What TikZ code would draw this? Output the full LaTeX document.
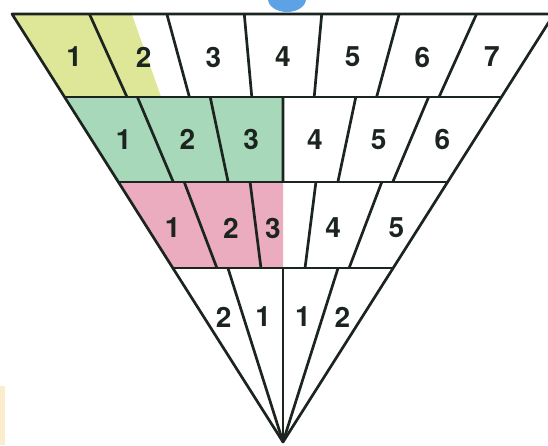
\documentclass[tikz,border=0pt]{standalone}
\usepackage{fontspec}
\setmainfont{TeX Gyre Heros}
\usepackage{tikz}
\usetikzlibrary{calc}
\definecolor{inkline}{RGB}{28,36,32}
\definecolor{fillY}{RGB}{222,230,152}
\definecolor{fillG}{RGB}{168,216,186}
\definecolor{fillP}{RGB}{234,172,190}
\definecolor{blobB}{RGB}{92,162,228}
\definecolor{stripO}{RGB}{250,236,205}

\begin{document}
\begin{tikzpicture}[x=1pt,y=-1pt,
    edge/.style={line width=2.7pt, draw=inkline, line join=round},
    num/.style={font=\fontsize{28}{32}\selectfont\bfseries, text=inkline, inner sep=0pt}]
      \clip (0,0) rectangle (548,445);

      % Corners of the funnel
      \coordinate (A) at (12,14);
      \coordinate (B) at (554,14);
      \coordinate (O) at (283,442);
      \coordinate (L0) at (A);
      \coordinate (R0) at (B);

      % Row boundaries on the two slanted sides
      \foreach \k/\t in {1/0.194, 2/0.3925, 3/0.5935} {
        \coordinate (L\k) at ($(A)!\t!(O)$);
        \coordinate (R\k) at ($(B)!\t!(O)$);
      }
      % Lines that carry the numbers
      \foreach \k/\t in {1/0.1005, 2/0.294, 3/0.5, 4/0.708} {
        \coordinate (P\k) at ($(A)!\t!(O)$);
        \coordinate (Q\k) at ($(B)!\t!(O)$);
      }

      % Marks at the edges of the picture
      \fill[blobB] (287,-1) ellipse (19 and 13);
      \fill[stripO] (0,386) rectangle (5,445);

      % Shaded parts of the rows
      \fill[fillY] (L0) -- ($(L0)!0.221!(R0)$) -- ($(L1)!0.221!(R1)$) -- (L1) -- cycle;
      \fill[fillG] (L1) -- ($(L1)!0.5!(R1)$) -- ($(L2)!0.5!(R2)$) -- (L2) -- cycle;
      \fill[fillP] (L2) -- ($(L2)!0.5!(R2)$) -- ($(L3)!0.5!(R3)$) -- (L3) -- cycle;

      % Dividers, all aimed at the apex
      \foreach \i in {1,...,6}
        \draw[edge] ($(L0)!\i/7!(R0)$) -- ($(L1)!\i/7!(R1)$);
      \foreach \i in {1,...,5}
        \draw[edge] ($(L1)!\i/6!(R1)$) -- ($(L2)!\i/6!(R2)$);
      \foreach \i in {1,...,4}
        \draw[edge] ($(L2)!\i/5!(R2)$) -- ($(L3)!\i/5!(R3)$);
      \foreach \i in {1,...,3}
        \draw[edge] ($(L3)!\i/4!(R3)$) -- (O);

      % Row lines and outline
      \foreach \k in {1,2,3}
        \draw[edge] (L\k) -- (R\k);
      \draw[edge] (A) -- (B) -- (O) -- cycle;

      % Numbers
      \foreach \i in {1,...,7}
        \node[num] (a\i) at ($(P1)!{(\i-0.5)/7}!(Q1)$) {\i};
      \foreach \i in {1,...,6}
        \node[num] (b\i) at ($(P2)!{(\i-0.5)/6}!(Q2)$) {\i};
      \foreach \i/\s in {1/-2, 2/2, 3/-10, 4/-4, 5/5}
        \node[num, xshift=\s pt] (c\i) at ($(P3)!{(\i-0.5)/5}!(Q3)$) {\i};
      \foreach \i/\d in {1/2, 2/1, 3/1, 4/2}
        \node[num] (d\i) at ($(P4)!{(\i-0.5)/4}!(Q4)$) {\d};
    \end{tikzpicture}
\end{document}
